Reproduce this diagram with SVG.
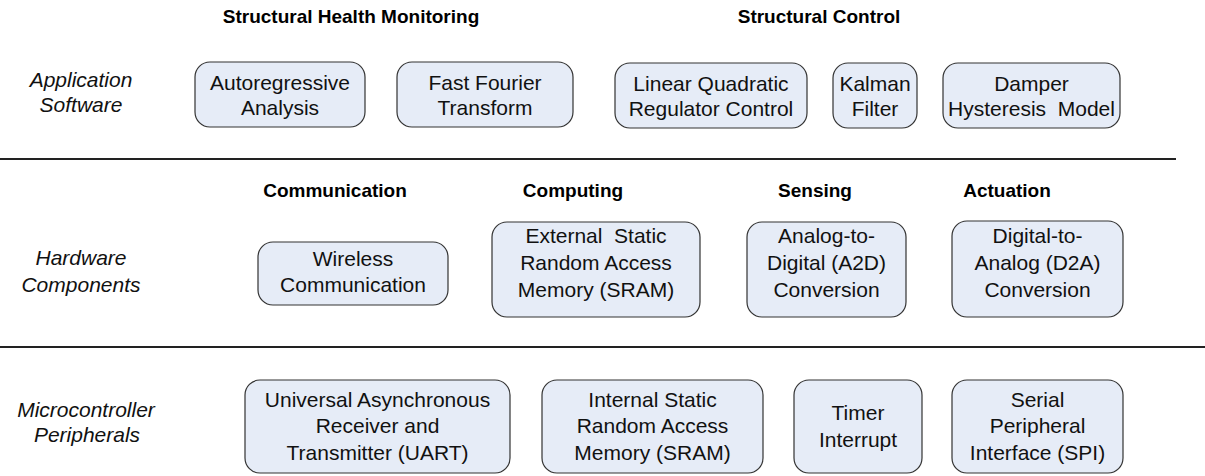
<svg xmlns="http://www.w3.org/2000/svg" width="1205" height="476" viewBox="0 0 1205 476">
<style>
.box{fill:#E6ECF7;stroke:#333;stroke-width:1.2}
.t{font-family:"Liberation Sans",Arial,sans-serif;font-size:21px;fill:#111;text-anchor:middle}
.h{font-family:"Liberation Sans",Arial,sans-serif;font-size:19px;font-weight:bold;fill:#000;text-anchor:middle}
.l{font-family:"Liberation Sans",Arial,sans-serif;font-size:21px;font-style:italic;fill:#111;text-anchor:middle}
.sep{stroke:#222;stroke-width:2}
</style>
<rect width="1205" height="476" fill="#fff"/>
<g id="headings">
<text class="h" x="351" y="23">Structural Health Monitoring</text>
<text class="h" x="819" y="23">Structural Control</text>
<text class="h" x="335" y="197">Communication</text>
<text class="h" x="573" y="197">Computing</text>
<text class="h" x="815" y="197">Sensing</text>
<text class="h" x="1007" y="197">Actuation</text>
</g>
<g id="layer-labels">
<text class="l" x="81" y="87">Application</text>
<text class="l" x="81" y="112">Software</text>
<text class="l" x="81" y="265">Hardware</text>
<text class="l" x="81" y="292">Components</text>
<text class="l" x="86" y="417">Microcontroller</text>
<text class="l" x="87" y="442">Peripherals</text>
</g>
<g id="connectors">
<line class="sep" x1="0" y1="159" x2="1176" y2="159"/>
<line class="sep" x1="0" y1="347" x2="1205" y2="347"/>
</g>
<g id="autoregressive">
<rect class="box" x="195" y="62" width="170" height="65" rx="15"/>
<text class="t" x="280" y="90">Autoregressive</text>
<text class="t" x="280" y="115">Analysis</text>
</g>
<g id="fft">
<rect class="box" x="397" y="62" width="176" height="65" rx="15"/>
<text class="t" x="485" y="90">Fast Fourier</text>
<text class="t" x="485" y="115">Transform</text>
</g>
<g id="lqr">
<rect class="box" x="615" y="63" width="192" height="65" rx="15"/>
<text class="t" x="711" y="91">Linear Quadratic</text>
<text class="t" x="711" y="116">Regulator Control</text>
</g>
<g id="kalman">
<rect class="box" x="833" y="63" width="84" height="65" rx="15"/>
<text class="t" x="875" y="91">Kalman</text>
<text class="t" x="875" y="116">Filter</text>
</g>
<g id="damper">
<rect class="box" x="943" y="63" width="177" height="65" rx="15"/>
<text class="t" x="1031.5" y="91">Damper</text>
<text class="t" x="1031.5" y="116" xml:space="preserve">Hysteresis  Model</text>
</g>
<g id="wireless">
<rect class="box" x="258" y="242" width="190" height="63" rx="15"/>
<text class="t" x="353" y="266">Wireless</text>
<text class="t" x="353" y="292">Communication</text>
</g>
<g id="ext-sram">
<rect class="box" x="492" y="222" width="208" height="95" rx="15"/>
<text class="t" x="596" y="243" xml:space="preserve">External  Static</text>
<text class="t" x="596" y="270">Random Access</text>
<text class="t" x="596" y="297">Memory (SRAM)</text>
</g>
<g id="a2d">
<rect class="box" x="747" y="222" width="159" height="95" rx="15"/>
<text class="t" x="826.5" y="243">Analog-to-</text>
<text class="t" x="826.5" y="270">Digital (A2D)</text>
<text class="t" x="826.5" y="297">Conversion</text>
</g>
<g id="d2a">
<rect class="box" x="952" y="221" width="171" height="96" rx="15"/>
<text class="t" x="1037.5" y="243">Digital-to-</text>
<text class="t" x="1037.5" y="270">Analog (D2A)</text>
<text class="t" x="1037.5" y="297">Conversion</text>
</g>
<g id="uart">
<rect class="box" x="245" y="380" width="265" height="93" rx="15"/>
<text class="t" x="377.5" y="407">Universal Asynchronous</text>
<text class="t" x="377.5" y="433">Receiver and</text>
<text class="t" x="377.5" y="460">Transmitter (UART)</text>
</g>
<g id="int-sram">
<rect class="box" x="542" y="380" width="221" height="93" rx="15"/>
<text class="t" x="652.5" y="407">Internal Static</text>
<text class="t" x="652.5" y="433">Random Access</text>
<text class="t" x="652.5" y="460">Memory (SRAM)</text>
</g>
<g id="timer">
<rect class="box" x="794" y="380" width="128" height="93" rx="15"/>
<text class="t" x="858" y="420">Timer</text>
<text class="t" x="858" y="447">Interrupt</text>
</g>
<g id="spi">
<rect class="box" x="952" y="380" width="171" height="93" rx="15"/>
<text class="t" x="1037.5" y="407">Serial</text>
<text class="t" x="1037.5" y="433">Peripheral</text>
<text class="t" x="1037.5" y="460">Interface (SPI)</text>
</g>
</svg>
